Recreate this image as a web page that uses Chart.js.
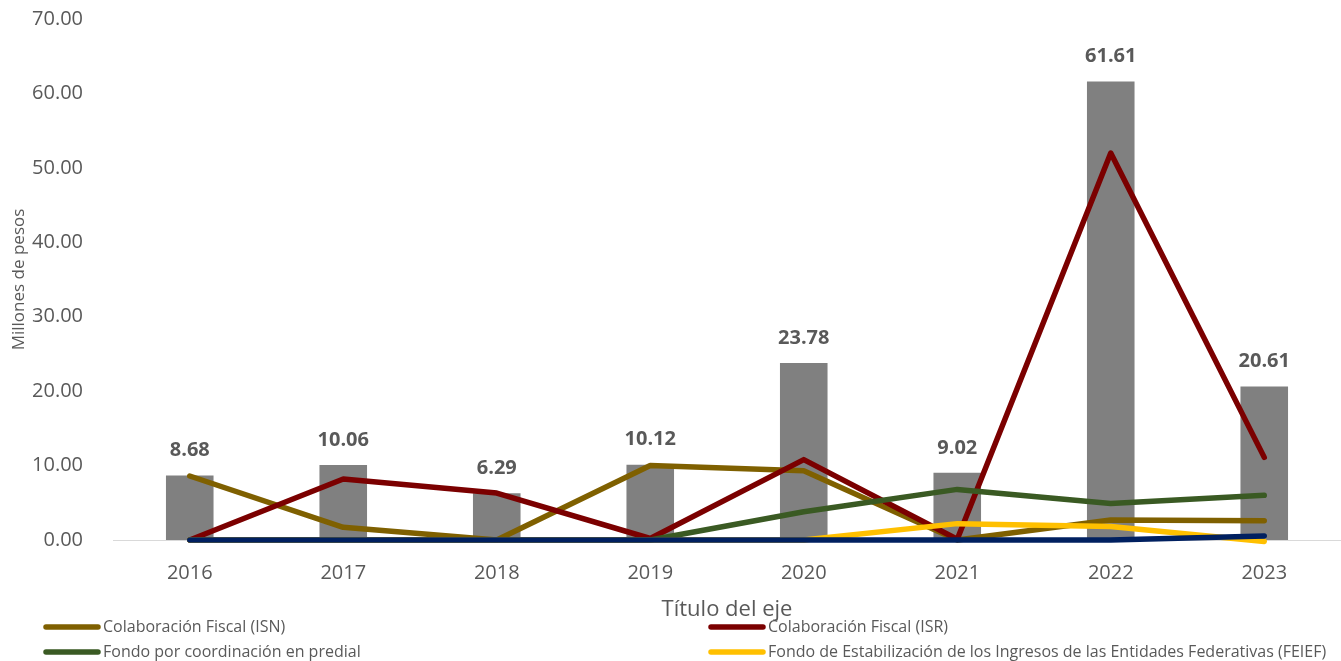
<!DOCTYPE html>
<html>
<head>
<meta charset="utf-8">
<script src="https://cdn.jsdelivr.net/npm/chart.js@4"></script>
<style>
  html, body { margin: 0; padding: 0; background: #fff; overflow: hidden; }
  #wrap { width: 1341px; height: 661px; position: relative; }
</style>
</head>
<body>
<div id="wrap"><canvas id="chart"></canvas></div>
<script>
const years = ['2016', '2017', '2018', '2019', '2020', '2021', '2022', '2023'];
const totalBars = [8.68, 10.06, 6.29, 10.12, 23.78, 9.02, 61.61, 20.61];
const isnValues = [8.6, 1.7, 0, 10.0, 9.3, 0, 2.7, 2.6];
const isrValues = [0, 8.2, 6.3, 0.2, 10.8, 0.1, 52.0, 11.1];
const predialValues = [0, 0, 0, 0, 3.8, 6.8, 4.9, 6.0];
const feiefValues = [0, 0, 0, 0, 0, 2.2, 1.8, -0.2];
const otherValues = [0, 0, 0, 0, 0, 0, 0, 0.55];
const yTicks = [0, 10, 20, 30, 40, 50, 60, 70];

Chart.defaults.font.family = '"Open Sans", sans-serif';
Chart.defaults.color = '#595959';

const textGray = '#595959';

function lineSet(label, data, color, order, inLegend) {
  return {
    type: 'line',
    label: label,
    data: data,
    borderColor: color,
    backgroundColor: color,
    borderWidth: 5.5,
    pointRadius: 0,
    tension: 0,
    borderCapStyle: 'round',
    borderJoinStyle: 'round',
    clip: false,
    order: order,
    inLegend: inLegend,
  };
}

const barLabels = {
  id: 'barLabels',
  afterDatasetsDraw(chart) {
    const ctx = chart.ctx;
    chart.data.datasets.forEach((ds, i) => {
      if (ds.type !== 'bar') return;
      const meta = chart.getDatasetMeta(i);
      ctx.save();
      ctx.font = 'bold 20px "Open Sans", sans-serif';
      ctx.fillStyle = textGray;
      ctx.textAlign = 'center';
      ctx.textBaseline = 'middle';
      meta.data.forEach((el, j) => {
        ctx.fillText(ds.data[j].toFixed(2), el.x, el.y - 25);
      });
      ctx.restore();
    });
  },
};

const twoColLegend = {
  id: 'twoColLegend',
  afterDraw(chart) {
    const ctx = chart.ctx;
    const items = chart.data.datasets.filter(ds => ds.inLegend);
    const cols = [43, 708];
    const rows = [627, 652];
    ctx.save();
    ctx.font = '16px "Open Sans", sans-serif';
    ctx.textBaseline = 'middle';
    ctx.textAlign = 'left';
    items.forEach((ds, k) => {
      const x = cols[k % 2];
      const y = rows[Math.floor(k / 2)];
      ctx.strokeStyle = ds.borderColor;
      ctx.lineWidth = 5.5;
      ctx.lineCap = 'round';
      ctx.beginPath();
      ctx.moveTo(x + 3, y);
      ctx.lineTo(x + 55, y);
      ctx.stroke();
      ctx.fillStyle = textGray;
      ctx.fillText(ds.label, x + 60, y);
    });
    ctx.restore();
  },
};

new Chart(document.getElementById('chart'), {
  data: {
    labels: years,
    datasets: [
      lineSet('Colaboración Fiscal (ISN)', isnValues, '#7F6000', 5, true),
      lineSet('Colaboración Fiscal (ISR)', isrValues, '#7B0000', 4, true),
      lineSet('Fondo por coordinación en predial', predialValues, '#3A5A23', 3, true),
      lineSet('Fondo de Estabilización de los Ingresos de las Entidades Federativas (FEIEF)', feiefValues, '#FFC000', 2, true),
      lineSet('Otros', otherValues, '#002060', 1, false),
      {
        type: 'bar',
        label: 'Total',
        data: totalBars,
        backgroundColor: '#808080',
        barPercentage: 0.31,
        categoryPercentage: 1,
        order: 10,
        inLegend: false,
      },
    ],
  },
  options: {
    responsive: true,
    maintainAspectRatio: false,
    animation: false,
    layout: { padding: { top: 19, right: 0, bottom: 0, left: 0 } },
    plugins: {
      legend: { display: false },
      tooltip: { enabled: false },
    },
    scales: {
      x: {
        offset: true,
        grid: { display: false },
        border: { color: '#D9D9D9', width: 1 },
        ticks: { color: textGray, font: { size: 20 }, padding: 13, maxRotation: 0 },
        title: {
          display: true,
          text: 'Título del eje',
          color: textGray,
          font: { size: 22 },
          padding: { top: 0, bottom: 38 },
        },
        afterFit(scale) { scale.height = 121; },
      },
      y: {
        min: 0,
        max: 70,
        grid: { display: false },
        border: { display: false },
        afterBuildTicks(scale) { scale.ticks = yTicks.map(v => ({ value: v })); },
        ticks: {
          color: textGray,
          font: { size: 20 },
          padding: 22,
          callback: v => Number(v).toFixed(2),
        },
        title: {
          display: true,
          text: 'Millones de pesos',
          color: textGray,
          font: { size: 17 },
          padding: { top: 9, bottom: 0 },
        },
        afterFit(scale) {
          scale.width = 113;
          scale.paddingTop = 0;
          scale.paddingBottom = 0;
        },
      },
    },
  },
  plugins: [barLabels, twoColLegend],
});
</script>
</body>
</html>
